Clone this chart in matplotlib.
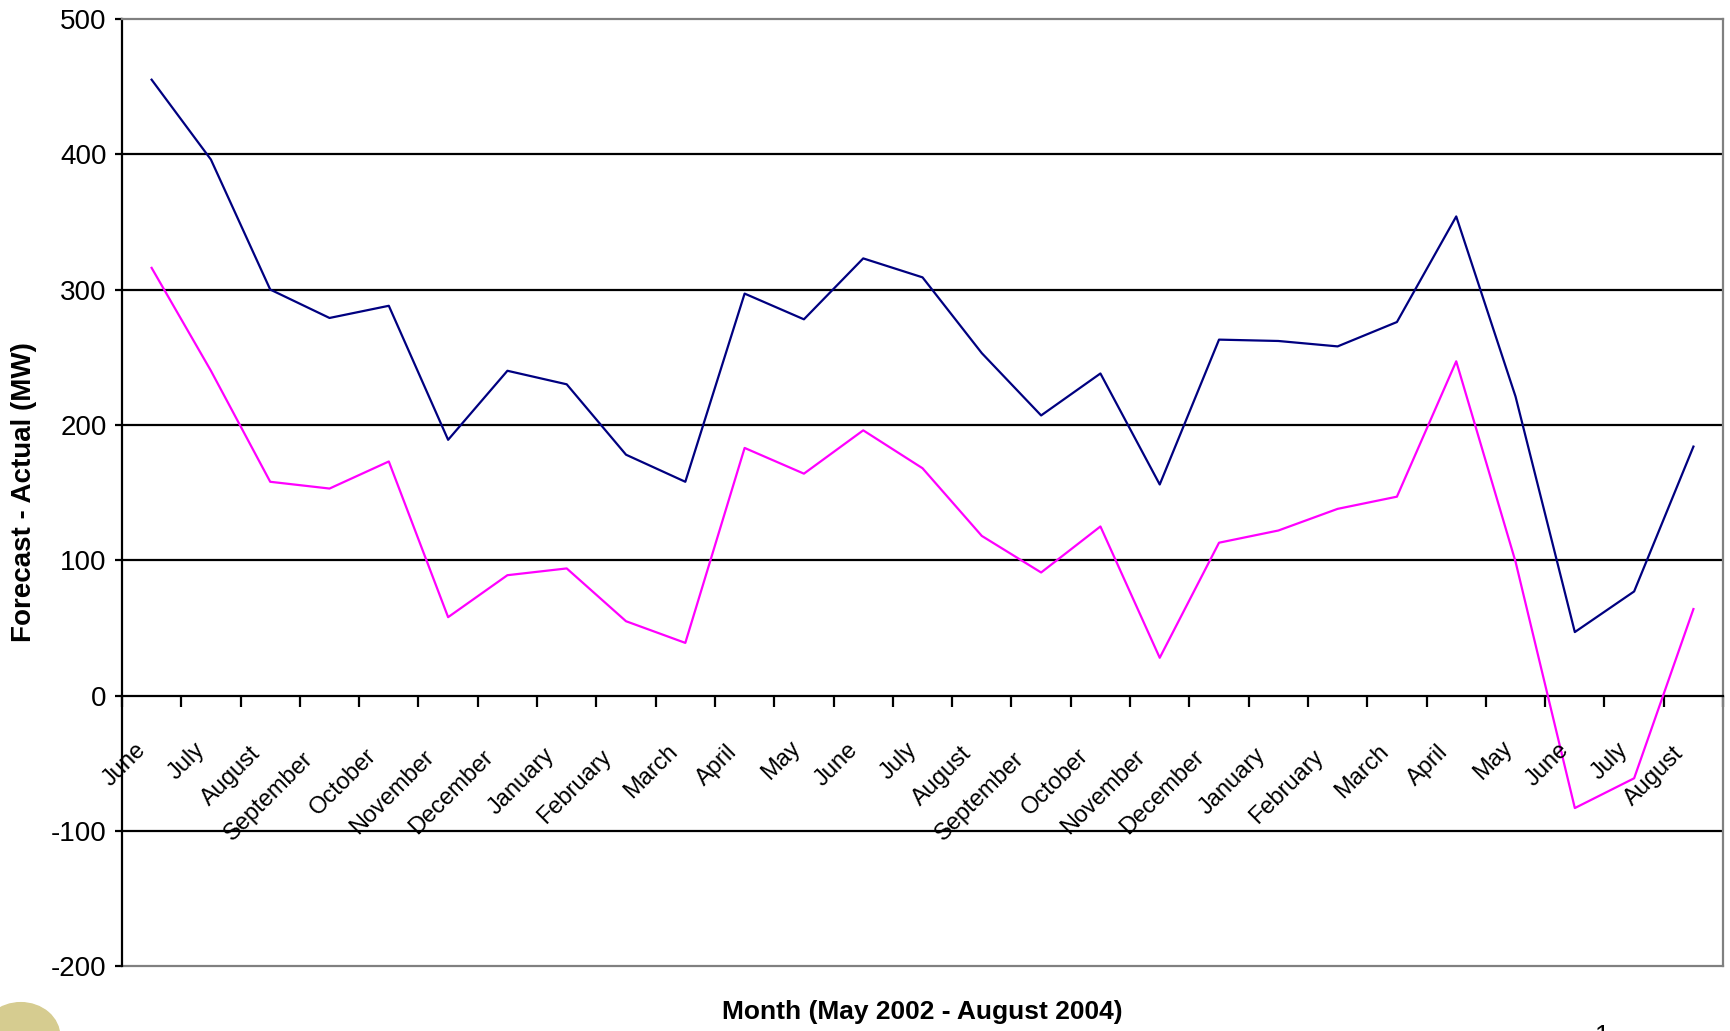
import matplotlib
matplotlib.use("Agg")
import matplotlib.pyplot as plt
from matplotlib.transforms import offset_copy
from matplotlib.patches import Ellipse
import numpy as np

plt.rcParams['font.family'] = ['Liberation Sans', 'DejaVu Sans']

# months June 2002 .. August 2004
months = ["June", "July", "August", "September", "October", "November",
          "December", "January", "February", "March", "April", "May",
          "June", "July", "August", "September", "October", "November",
          "December", "January", "February", "March", "April", "May",
          "June", "July", "August"]

# forecast - actual (MW), two series
series_navy = [455, 396, 300, 279, 288, 189, 240, 230, 178, 158, 297, 278,
               323, 309, 253, 207, 238, 156, 263, 262, 258, 276, 354, 221,
               47, 77, 184]
series_magenta = [316, 240, 158, 153, 173, 58, 89, 94, 55, 39, 183, 164,
                  196, 168, 118, 91, 125, 28, 113, 122, 138, 147, 247, 99,
                  -83, -61, 64]

y_ticks = [-200, -100, 0, 100, 200, 300, 400, 500]

fig = plt.figure(figsize=(17.3, 10.31), dpi=100)
ax = fig.add_axes([0.0705, 0.0626, 0.9255, 0.9192])

x = np.arange(len(months))
ax.set_xlim(-0.5, len(months) - 0.5)
ax.set_ylim(-200, 500)

# horizontal gridlines
for v in y_ticks:
    if v in (-200, 0, 500):
        continue
    ax.axhline(v, color='black', lw=1.6, zorder=1)

ax.plot(x, series_navy, color='#000080', lw=1.6, zorder=3)
ax.plot(x, series_magenta, color='#FF00FF', lw=1.6, zorder=3)

# frame
for side in ('top', 'right'):
    ax.spines[side].set_color('#808080')
    ax.spines[side].set_linewidth(1.6)
ax.spines['left'].set_linewidth(1.6)
ax.spines['bottom'].set_position(('data', 0))
ax.spines['bottom'].set_linewidth(1.6)
ax.axhline(-200, color='#808080', lw=1.6, clip_on=False, zorder=2)

ax.set_yticks(y_ticks)
ax.set_yticklabels([str(v) for v in y_ticks], fontsize=20)
ax.tick_params(axis='y', direction='out', length=5, width=1.6, pad=6)

# category boundary ticks on the zero line
ax.set_xticks(np.arange(len(months) + 1) - 0.5)
ax.set_xticklabels([])
ax.tick_params(axis='x', direction='out', length=8, width=1.6)

# rotated month labels under the zero line (longer names sit a bit lower/left)
for i, lab in enumerate(months):
    n = len(lab)
    dx = -(8 + 2.2 * n) * 0.72
    dy = -(36 + 1.8 * n) * 0.72
    trans = offset_copy(ax.transData, fig=fig, x=dx, y=dy, units='points')
    ax.text(i, 0, lab, transform=trans, rotation=45, rotation_mode='anchor',
            ha='right', va='top', fontsize=17, zorder=4)

fig.text(0.0139, 0.523, 'Forecast - Actual (MW)', rotation=90, ha='center',
         va='center', fontsize=20, fontweight='bold')
fig.text(0.533, 0.018, 'Month (May 2002 - August 2004)', ha='center',
         va='center', fontsize=19, fontweight='bold')

# partial logo at bottom-left corner and cut-off page number
fig.patches.append(Ellipse((0.012, -0.005), 0.045, 0.065, transform=fig.transFigure,
                           color='#d6cc90', zorder=0))
fig.text(0.926, 0.007, '1', ha='center', va='top', fontsize=19)

fig.savefig('out.png', dpi=100)
